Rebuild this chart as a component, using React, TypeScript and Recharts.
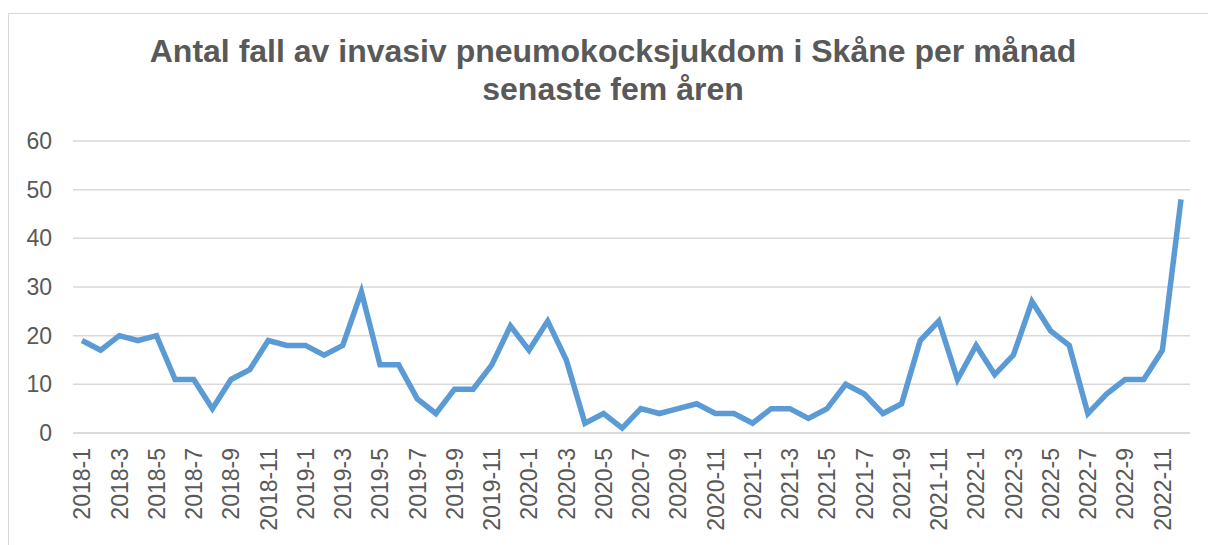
import { LineChart, Line, XAxis, YAxis, CartesianGrid } from 'recharts';

const years = [2018, 2019, 2020, 2021, 2022];

const cases2018 = [19, 17, 20, 19, 20, 11, 11, 5, 11, 13, 19, 18];
const cases2019 = [18, 16, 18, 29, 14, 14, 7, 4, 9, 9, 14, 22];
const cases2020 = [17, 23, 15, 2, 4, 1, 5, 4, 5, 6, 4, 4];
const cases2021 = [2, 5, 5, 3, 5, 10, 8, 4, 6, 19, 23, 11];
const cases2022 = [18, 12, 16, 27, 21, 18, 4, 8, 11, 11, 17, 48];

const yTicks = [0, 10, 20, 30, 40, 50, 60];

const allCases = [cases2018, cases2019, cases2020, cases2021, cases2022];
const data = years.flatMap((yr, i) =>
  allCases[i].map((v, m) => ({ month: `${yr}-${m + 1}`, cases: v }))
);

const textColor = '#595959';
const font = '"Liberation Sans", Arial, sans-serif';

const XTick = (props: any) => {
  const { x, y, payload } = props;
  return (
    <g transform={`translate(${x},${y})`}>
      <text
        transform="rotate(-90)"
        x={0}
        y={0}
        dy="0.36em"
        textAnchor="end"
        fill={textColor}
        fontSize={23}
        fontFamily={font}
      >
        {payload.value}
      </text>
    </g>
  );
};

export default function App() {
  return (
    <div
      style={{
        position: 'absolute',
        left: 8,
        top: 13,
        width: 1210,
        height: 540,
        border: '1px solid #d9d9d9',
        background: '#fff',
        fontFamily: font,
      }}
    >
      <div
        style={{
          position: 'absolute',
          left: 0,
          top: 18,
          width: 1208,
          textAlign: 'center',
          fontSize: 32,
          lineHeight: '38px',
          fontWeight: 'bold',
          color: textColor,
        }}
      >
        Antal fall av invasiv pneumokocksjukdom i Skåne per månad
        <br />
        senaste fem åren
      </div>
      <LineChart
        width={1200}
        height={532}
        data={data}
        margin={{ top: 127, right: 19, left: 0, bottom: 3 }}
      >
        <CartesianGrid vertical={false} stroke="#d9d9d9" strokeWidth={1.5} />
        <XAxis
          dataKey="month"
          interval={1}
          height={110}
          padding={{ left: 9, right: 9 }}
          axisLine={{ stroke: '#d9d9d9', strokeWidth: 1.5 }}
          tickLine={false}
          tickSize={0}
          tickMargin={15}
          tick={<XTick />}
        />
        <YAxis
          domain={[0, 60]}
          ticks={yTicks}
          width={64}
          axisLine={false}
          tickLine={false}
          tickSize={0}
          tickMargin={21}
          tick={{ fill: textColor, fontSize: 23, fontFamily: font }}
        />
        <Line
          type="linear"
          dataKey="cases"
          stroke="#5b9bd5"
          strokeWidth={5.5}
          dot={false}
          isAnimationActive={false}
        />
      </LineChart>
    </div>
  );
}
